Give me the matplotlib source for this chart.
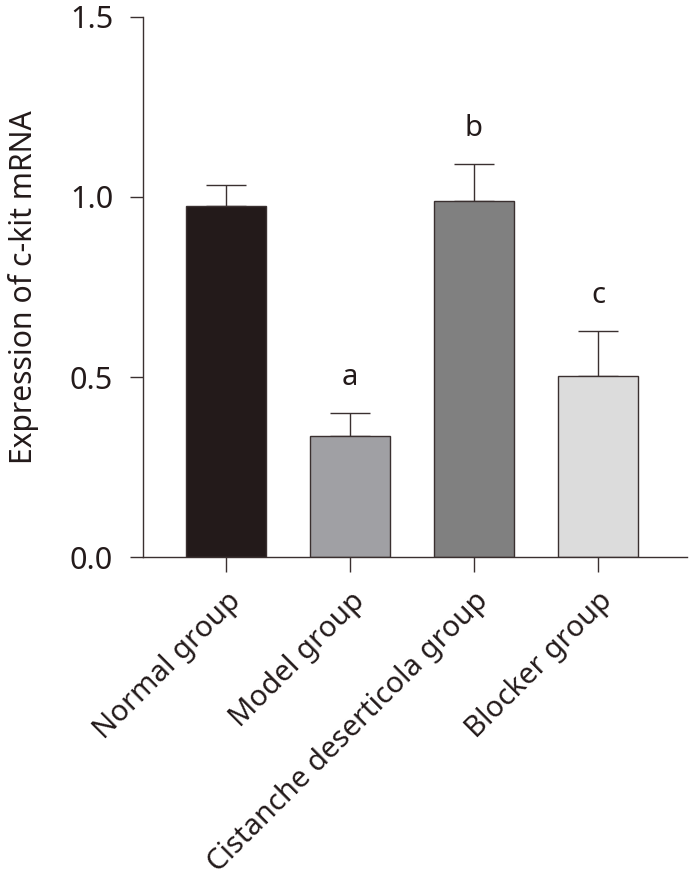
import numpy as np
import matplotlib.pyplot as plt

# Data
groups = ['Normal group', 'Model group', 'Cistanche deserticola group', 'Blocker group']
means = [0.975, 0.336, 0.989, 0.503]
errors = [0.058, 0.064, 0.103, 0.125]
letters = ['', 'a', 'b', 'c']
colors = ['#231a1a', '#a0a0a4', '#808080', '#dcdcdc']

plt.rcParams['font.family'] = ['Noto Sans', 'DejaVu Sans']
edge = '#3a3030'

fig = plt.figure(figsize=(6.9, 8.83), dpi=100)
ax = fig.add_axes([0.207, 0.369, 0.789, 0.612])

x = np.arange(len(groups))
ax.bar(x, means, width=0.645, color=colors, edgecolor=edge, linewidth=1.0, zorder=2)
ax.errorbar(x, means, yerr=[np.zeros(len(means)), errors], fmt='none',
            ecolor=edge, elinewidth=1.0, capsize=14.4, capthick=1.0, zorder=1)

for xi, m, e, t in zip(x, means, errors, letters):
    if t:
        ax.annotate(t, xy=(xi, m + e), xytext=(0, 20), textcoords='offset points',
                    ha='center', va='baseline', fontsize=21, color='#231a1a')

ax.set_xlim(-0.67, 3.72)
ax.set_ylim(0, 1.5)
ax.set_yticks([0.0, 0.5, 1.0, 1.5])
ax.set_yticklabels(['0.0', '0.5', '1.0', '1.5'])
ax.set_xticks(x)
ax.set_xticklabels(groups, rotation=45, ha='right', rotation_mode='anchor')

ax.spines['top'].set_visible(False)
ax.spines['right'].set_visible(False)
for s in ['left', 'bottom']:
    ax.spines[s].set_color(edge)
    ax.spines[s].set_linewidth(1.0)

ax.tick_params(axis='y', length=9.4, width=1.0, color=edge, pad=12,
               labelsize=22, labelcolor='#231a1a')
ax.tick_params(axis='x', length=11, width=1.0, color=edge, pad=10,
               labelsize=21, labelcolor='#231a1a')

ax.set_ylabel('Expression of c-kit mRNA', fontsize=21.7, color='#231a1a', labelpad=22)

fig.savefig('out.png', dpi=100)
